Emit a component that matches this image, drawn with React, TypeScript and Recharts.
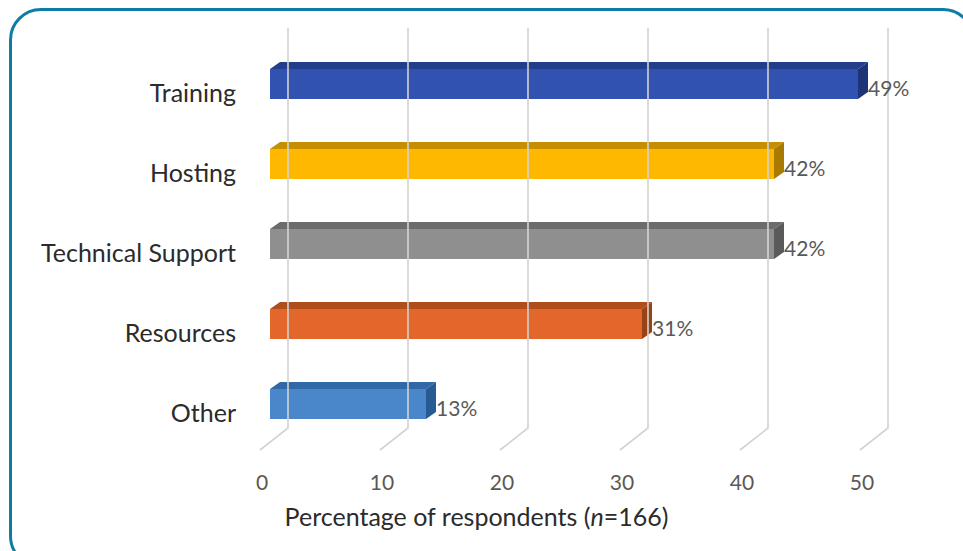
import React from "react";
import { BarChart, Bar, XAxis, YAxis, LabelList } from "recharts";

const categories = ["Training", "Hosting", "Technical Support", "Resources", "Other"];
const percentages = [49, 42, 42, 31, 13];
const tickValues = [0, 10, 20, 30, 40, 50];

const frontColors = ["#3152B0", "#FFB800", "#8F8F8F", "#E3662A", "#4A87CA"];
const topColors = ["#233F8C", "#C58F00", "#6C6C6C", "#B04E1B", "#3068A8"];
const sideColors = ["#1D3578", "#A97A00", "#5A5A5A", "#984315", "#285A94"];

const data = categories.map((name, i) => ({ name, value: percentages[i], idx: i }));

// front plane of the plot
const PLOT_LEFT = 260;
const PLOT_TOP = 50;
const PLOT_BOTTOM = 450;
// depth of the back wall
const DX = 28;
const DY = 22;
// bar placement inside the depth
const BAR_SHIFT_X = 10;
const BAR_SHIFT_Y = -6;
const BAR_DX = 10;
const BAR_DY = 7;

const FONT = "Lato, 'Open Sans', sans-serif";

const GridTick = (props: any) => {
  const { x, payload } = props;
  return (
    <g>
      <polyline
        points={`${x},${PLOT_BOTTOM} ${x + DX},${PLOT_BOTTOM - DY} ${x + DX},${PLOT_TOP - DY}`}
        fill="none"
        stroke="#D3D3D3"
        strokeWidth={1.6}
      />
      <text
        x={x + 2}
        y={481}
        textAnchor="middle"
        dominantBaseline="central"
        fontFamily={FONT}
        fontSize={21}
        fill="#595959"
      >
        {payload.value}
      </text>
    </g>
  );
};

const CategoryTick = (props: any) => {
  const { y, payload } = props;
  return (
    <text
      x={PLOT_LEFT - 24}
      y={y + 2}
      textAnchor="end"
      dominantBaseline="central"
      fontFamily={FONT}
      fontSize={25}
      fill="#2B2B2B"
    >
      {payload.value}
    </text>
  );
};

const Bar3D = (props: any) => {
  const { x, y, width, height, payload } = props;
  const i = payload.idx;
  const fx = x + BAR_SHIFT_X;
  const fy = y + BAR_SHIFT_Y;
  return (
    <g>
      <polygon
        points={`${fx},${fy} ${fx + width},${fy} ${fx + width + BAR_DX},${fy - BAR_DY} ${fx + BAR_DX},${fy - BAR_DY}`}
        fill={topColors[i]}
      />
      <polygon
        points={`${fx + width},${fy} ${fx + width + BAR_DX},${fy - BAR_DY} ${fx + width + BAR_DX},${fy + height - BAR_DY} ${fx + width},${fy + height}`}
        fill={sideColors[i]}
      />
      <rect x={fx} y={fy} width={width} height={height} fill={frontColors[i]} />
    </g>
  );
};

const ValueLabel = (props: any) => {
  const vb = props.viewBox || {};
  const x = props.x ?? vb.x;
  const y = props.y ?? vb.y;
  const width = props.width ?? vb.width;
  const height = props.height ?? vb.height;
  return (
    <text
      x={x + width + BAR_SHIFT_X + BAR_DX}
      y={y + height / 2 - 3}
      textAnchor="start"
      dominantBaseline="central"
      fontFamily={FONT}
      fontSize={21}
      fill="#595959"
    >
      {props.value}%
    </text>
  );
};

export default function App() {
  return (
    <div
      style={{
        position: "absolute",
        left: 0,
        top: 0,
        width: 963,
        height: 551,
        overflow: "hidden",
        background: "#fff",
      }}
    >
      <div
        style={{
          position: "absolute",
          left: 9,
          top: 8,
          width: 966,
          height: 560,
          border: "3px solid #0E7DA6",
          borderRadius: 32,
          boxSizing: "border-box",
        }}
      />
      <div style={{ position: "absolute", left: 0, top: 0 }}>
        <BarChart
          layout="vertical"
          width={963}
          height={551}
          data={data}
          margin={{ top: PLOT_TOP, right: 103, bottom: 61, left: 60 }}
          barSize={30}
        >
          <XAxis
            type="number"
            domain={[0, 50]}
            ticks={tickValues}
            axisLine={false}
            tickLine={false}
            height={40}
            tick={<GridTick />}
            interval={0}
          />
          <YAxis
            type="category"
            dataKey="name"
            width={200}
            axisLine={false}
            tickLine={false}
            tick={<CategoryTick />}
            interval={0}
          />
          <Bar dataKey="value" isAnimationActive={false} shape={<Bar3D />}>
            <LabelList dataKey="value" content={<ValueLabel />} />
          </Bar>
        </BarChart>
      </div>
      <div
        style={{
          position: "absolute",
          left: 0,
          width: 953,
          top: 502,
          textAlign: "center",
          fontFamily: FONT,
          fontSize: 25,
          color: "#2B2B2B",
          lineHeight: "28px",
        }}
      >
        Percentage of respondents (<i>n</i>=166)
      </div>
    </div>
  );
}
